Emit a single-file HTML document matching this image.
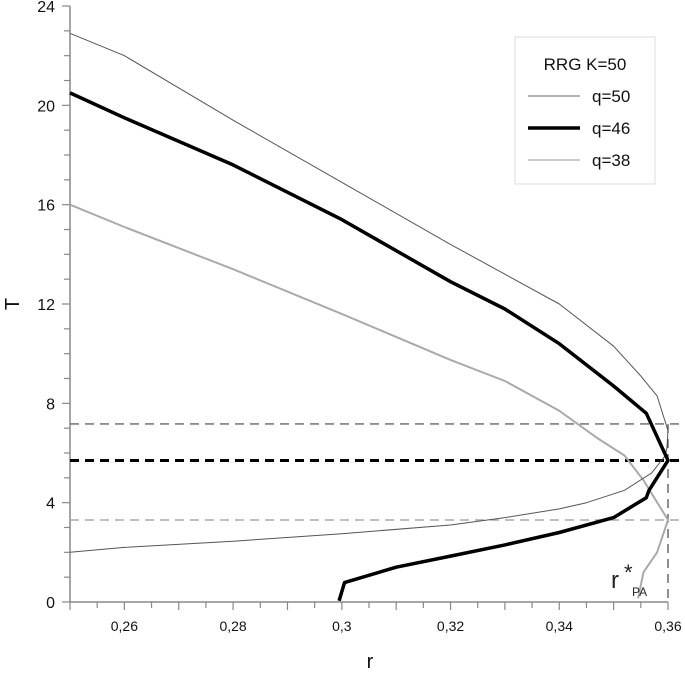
<!DOCTYPE html>
<html><head><meta charset="utf-8"><style>
html,body{margin:0;padding:0;background:#fff;}
svg{display:block;font-family:"Liberation Sans","DejaVu Sans",sans-serif;}
</style></head><body>
<svg id="chart" width="685" height="673"></svg>
<script>
const xTicks=[0.26,0.28,0.3,0.32,0.34,0.36];
const xTickLabels=["0,26","0,28","0,3","0,32","0,34","0,36"];
const yTicks=[0,4,8,12,16,20,24];
const r50=[0.25,0.26,0.28,0.30,0.32,0.33,0.34,0.35,0.355,0.358,0.36,0.3598,0.3595,0.357,0.352,0.345,0.34,0.33,0.32,0.30,0.28,0.26,0.25];
const T50=[22.9,22.0,19.4,16.9,14.4,13.2,12.0,10.3,9.1,8.3,6.9,6.2,5.9,5.2,4.5,4.0,3.75,3.4,3.1,2.75,2.45,2.2,2.0];
const r46=[0.25,0.26,0.28,0.30,0.32,0.33,0.34,0.35,0.356,0.36,0.3565,0.356,0.35,0.34,0.33,0.32,0.31,0.3005,0.2995];
const T46=[20.5,19.5,17.6,15.4,12.9,11.8,10.4,8.7,7.6,5.7,4.5,4.2,3.4,2.8,2.3,1.85,1.4,0.78,0.05];
const r38=[0.25,0.26,0.28,0.30,0.32,0.33,0.34,0.347,0.352,0.3555,0.36,0.358,0.3555,0.3545];
const T38=[16.0,15.1,13.4,11.6,9.75,8.9,7.7,6.6,5.9,4.9,3.3,2.0,1.2,0.15];
const dashT=[7.17,5.7,3.3];
const rStar=0.36;

const NS="http://www.w3.org/2000/svg";
const svg=document.getElementById('chart');
const X0=70,X1=668,Y0=602,Y1=6;
const xs=v=>X0+(v-0.25)/(0.36-0.25)*(X1-X0);
const ys=v=>Y0-(v/24)*(Y0-Y1);
function mk(tag,attrs,parent){const e=document.createElementNS(NS,tag);for(const k in attrs)e.setAttribute(k,attrs[k]);(parent||svg).appendChild(e);return e;}

// axes
let ax=mk('line',{x1:X0,y1:Y1,x2:X0,y2:Y0,stroke:'#888','stroke-width':1.5});


let bx=mk('line',{x1:X0,y1:Y0,x2:X1,y2:Y0,stroke:'#888','stroke-width':1.5});


for(let i=0;i<=24;i++){
  const y=ys(i);const major=i%4===0;
  let t=mk('line',{x1:major?X0-8:X0-6,y1:y,x2:X0,y2:y,stroke:'#888','stroke-width':1.2});
  
  
}
yTicks.forEach(v=>{
  let t=mk('text',{x:55,y:ys(v)+6,'text-anchor':'end','font-size':16,fill:'#111'});
  t.textContent=String(v);
  
  
});
for(let i=0;i<=22;i++){
  const v=0.25+i*0.005;const x=xs(v);const major=i%2===0;
  let t=mk('line',{x1:x,y1:Y0,x2:x,y2:major?Y0+8:Y0+6,stroke:'#888','stroke-width':1.2});
  
  
}
xTicks.forEach((v,i)=>{
  let t=mk('text',{x:xs(v),y:631,'text-anchor':'middle','font-size':14,fill:'#111'});
  t.textContent=xTickLabels[i];
  
  
});
let xl=mk('text',{x:370,y:668,'text-anchor':'middle','font-size':20,fill:'#111'});
xl.textContent='r';


let yl=mk('text',{x:0,y:0,transform:'translate(19,304) rotate(-90)','text-anchor':'middle','font-size':20,fill:'#111'});
yl.textContent='T';



// dashed lines
const dStyles=[{s:'#666',w:1.3,d:'9,6'},{s:'#000',w:3,d:'9,6'},{s:'#aaa',w:1.5,d:'9,6'}];
dashT.forEach((v,i)=>{
  let l=mk('line',{x1:X0,y1:ys(v),x2:685,y2:ys(v),stroke:dStyles[i].s,'stroke-width':dStyles[i].w,'stroke-dasharray':dStyles[i].d});
  
  
});
let vl=mk('line',{x1:xs(rStar),y1:ys(dashT[0]),x2:xs(rStar),y2:Y0,stroke:'#555','stroke-width':1.3,'stroke-dasharray':'9,6'});



function series(r,T,stroke,w,name){
  const d=r.map((v,i)=>(i?'L':'M')+xs(v).toFixed(1)+','+ys(T[i]).toFixed(1)).join(' ');
  let p=mk('path',{d:d,fill:'none',stroke:stroke,'stroke-width':w,'stroke-linejoin':'round'});
  
  
}
series(r38,T38,'#aaa',2,'series-q38');
series(r50,T50,'#555',1,'series-q50');
series(r46,T46,'#000',3.5,'series-q46');

// r* label
let rs=mk('text',{x:611,y:588,'font-size':24,fill:'#222'});
rs.textContent='r';


let st=mk('text',{x:624,y:580,'font-size':22,fill:'#222'});
st.textContent='*';


let pa=mk('text',{x:632,y:596,'font-size':12,fill:'#222'});
pa.textContent='PA';



// legend
const lg=mk('g',{});


mk('rect',{x:515,y:37,width:140,height:147,fill:'#fff',stroke:'#ddd','stroke-width':1},lg);
let lt=mk('text',{x:585,y:70,'text-anchor':'middle','font-size':17,fill:'#111'},lg);
lt.textContent='RRG K=50';


const legItems=[['q=50','#888',1.2,96],['q=46','#000',3.5,128],['q=38','#bbb',1.5,160]];
legItems.forEach(it=>{
  let l=mk('line',{x1:528,y1:it[3],x2:580,y2:it[3],stroke:it[1],'stroke-width':it[2]},lg);
  
  
  let t=mk('text',{x:592,y:it[3]+6,'font-size':17,fill:'#111'},lg);
  t.textContent=it[0];
  
  
});
</script>
</body></html>
